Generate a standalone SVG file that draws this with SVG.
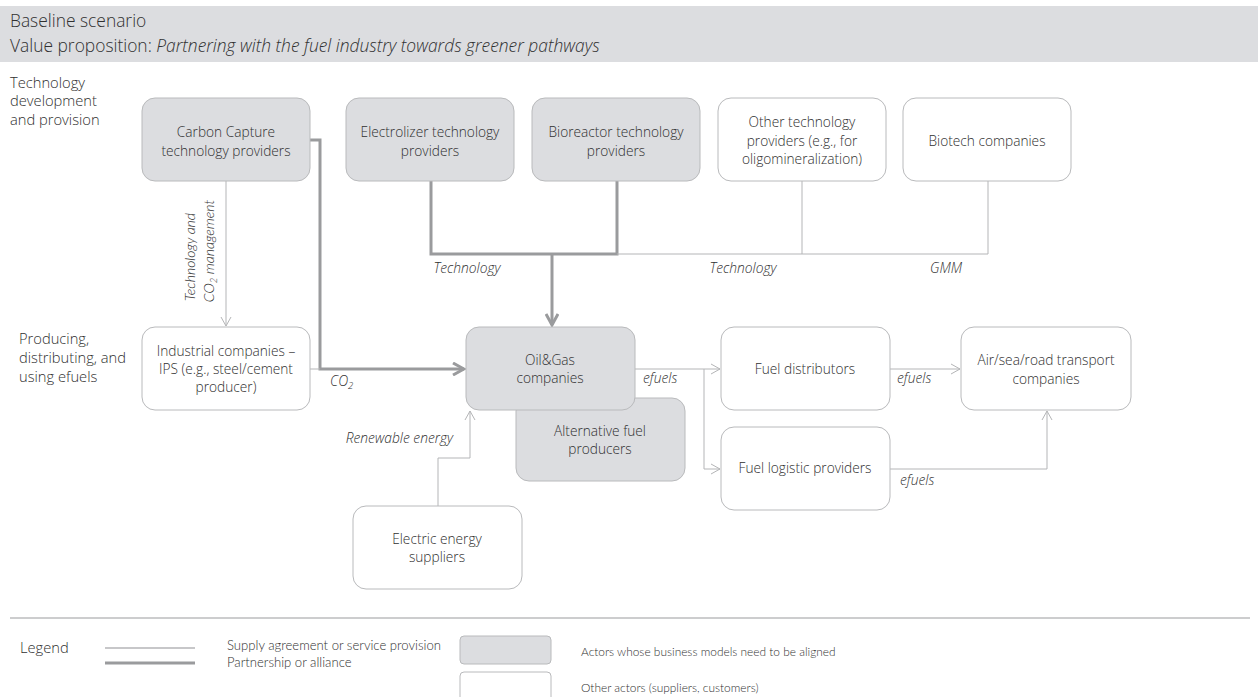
<svg xmlns="http://www.w3.org/2000/svg" width="1258" height="697" viewBox="0 0 1258 697">
<style>
text{font-family:"Open Sans","Liberation Sans",sans-serif;fill:#303030;font-weight:300;}
.n{font-size:13.7px;text-anchor:middle;}
.lbl{font-size:13.8px;font-style:italic;}
.rot{font-family:Lato,"Liberation Sans",sans-serif;font-size:14px;font-style:italic;text-anchor:middle;}
.side{font-size:14.7px;}
.hdr{font-size:17.4px;}
.lg{font-family:Lato,"Liberation Sans",sans-serif;font-size:13.1px;}
.lg2{font-family:Lato,"Liberation Sans",sans-serif;font-size:11.9px;}
.g{fill:#dcdde0;stroke:#b9babc;stroke-width:1;}
.w{fill:#ffffff;stroke:#b9babc;stroke-width:1;}
.thin{fill:none;stroke:#b4b5b7;stroke-width:1;}
.thick{fill:none;stroke:#9a9b9d;stroke-width:3;}
</style>
<defs>
<marker id="oa" markerWidth="12" markerHeight="12" refX="10" refY="6" orient="auto" markerUnits="userSpaceOnUse">
<path d="M1,1 L10,6 L1,11" fill="none" stroke="#b4b5b7" stroke-width="1"/>
</marker>
<marker id="fa" markerWidth="14" markerHeight="14" refX="12" refY="7" orient="auto" markerUnits="userSpaceOnUse">
<path d="M1,1 L12,7 L1,13" fill="none" stroke="#9a9b9d" stroke-width="3" stroke-linejoin="miter"/>
</marker>
</defs>
<rect x="0" y="6" width="1258" height="56" fill="#dcdde0"/>
<text class="hdr" x="10" y="27">Baseline scenario</text>
<text class="hdr" x="10" y="52">Value proposition: <tspan font-style="italic">Partnering with the fuel industry towards greener pathways</tspan></text>
<text class="side" x="10" y="88">Technology</text>
<text class="side" x="10" y="106">development</text>
<text class="side" x="10" y="125">and provision</text>
<text class="side" x="19" y="344">Producing,</text>
<text class="side" x="19" y="363">distributing, and</text>
<text class="side" x="19" y="382">using efuels</text>
<g id="connectors">
<path class="thin" d="M226,181 V326" marker-end="url(#oa)"/>
<path class="thick" d="M310,140 H320 V369 H464" marker-end="url(#fa)"/>
<path class="thin" d="M310,369 H320"/>
<path class="thick" d="M431,181 V254 H617 V181"/>
<path class="thick" d="M552,254 V325" marker-end="url(#fa)"/>
<path class="thin" d="M617,254 H988 V181"/>
<path class="thin" d="M802,181 V254"/>
<path class="thin" d="M635,369 H720" marker-end="url(#oa)"/>
<path class="thin" d="M704,369 V469 H720" marker-end="url(#oa)"/>
<path class="thin" d="M890,369 H960" marker-end="url(#oa)"/>
<path class="thin" d="M890,469 H1047 V411" marker-end="url(#oa)"/>
<path class="thin" d="M438,506 V458 H470 V411" marker-end="url(#oa)"/>
<text class="rot" transform="translate(195,257) rotate(-90)">Technology and</text>
<text class="rot" transform="translate(214,251) rotate(-90)">CO<tspan font-size="9.5" dy="3">2</tspan><tspan dy="-3"> management</tspan></text>
<text class="lbl" x="330" y="386">CO<tspan font-size="9.5" dy="3">2</tspan></text>
<text class="lbl" x="467" y="273" text-anchor="middle">Technology</text>
<text class="lbl" x="743" y="273" text-anchor="middle">Technology</text>
<text class="lbl" x="946" y="273" text-anchor="middle">GMM</text>
<text class="lbl" x="643" y="383">efuels</text>
<text class="lbl" x="897" y="383">efuels</text>
<text class="lbl" x="900" y="485">efuels</text>
<text class="lbl" x="453" y="443" text-anchor="end">Renewable energy</text>
</g>
<g id="carbon-capture"><rect class="g" x="142" y="98" width="168" height="83" rx="13"/><text class="n" x="226" y="137">Carbon Capture</text><text class="n" x="226" y="156">technology providers</text></g>
<g id="electrolizer"><rect class="g" x="346" y="98" width="168" height="83" rx="13"/><text class="n" x="430" y="137">Electrolizer technology</text><text class="n" x="430" y="156">providers</text></g>
<g id="bioreactor"><rect class="g" x="532" y="98" width="168" height="83" rx="13"/><text class="n" x="616" y="137">Bioreactor technology</text><text class="n" x="616" y="156">providers</text></g>
<g id="other-tech"><rect class="w" x="718" y="98" width="168" height="83" rx="13"/><text class="n" x="802" y="127">Other technology</text><text class="n" x="802" y="146">providers (e.g., for</text><text class="n" x="802" y="164">oligomineralization)</text></g>
<g id="biotech"><rect class="w" x="903" y="98" width="168" height="83" rx="13"/><text class="n" x="987" y="146">Biotech companies</text></g>
<g id="industrial"><rect class="w" x="142" y="327" width="168" height="83" rx="13"/><text class="n" x="226" y="356">Industrial companies –</text><text class="n" x="226" y="374">IPS (e.g., steel/cement</text><text class="n" x="226" y="392">producer)</text></g>
<g id="alt-fuel"><rect class="g" x="516" y="398" width="169" height="83" rx="13"/><text class="n" x="600" y="436">Alternative fuel</text><text class="n" x="600" y="454">producers</text></g>
<g id="oil-gas"><rect class="g" x="466" y="327" width="169" height="83" rx="13"/><text class="n" x="550" y="365">Oil&amp;Gas</text><text class="n" x="550" y="383">companies</text></g>
<g id="electric"><rect class="w" x="353" y="506" width="169" height="83" rx="13"/><text class="n" x="437" y="544">Electric energy</text><text class="n" x="437" y="562">suppliers</text></g>
<g id="fuel-distributors"><rect class="w" x="721" y="327" width="169" height="83" rx="13"/><text class="n" x="805" y="374">Fuel distributors</text></g>
<g id="fuel-logistic"><rect class="w" x="721" y="427" width="169" height="83" rx="13"/><text class="n" x="805" y="473">Fuel logistic providers</text></g>
<g id="transport"><rect class="w" x="961" y="327" width="170" height="83" rx="13"/><text class="n" x="1046" y="365">Air/sea/road transport</text><text class="n" x="1046" y="384">companies</text></g>
<g id="legend">
<line x1="10" y1="618" x2="1250" y2="618" stroke="#9a9b9d" stroke-width="1"/>
<text class="side" x="20" y="653">Legend</text>
<line x1="105" y1="648" x2="195" y2="648" stroke="#b4b5b7" stroke-width="1.5"/>
<line x1="105" y1="663" x2="195" y2="663" stroke="#9a9b9d" stroke-width="3"/>
<text class="lg" x="227" y="650">Supply agreement or service provision</text>
<text class="lg" x="227" y="667">Partnership or alliance</text>
<rect class="g" x="460" y="636" width="91" height="28" rx="4"/>
<rect class="w" x="460" y="672" width="91" height="30" rx="4"/>
<text class="lg2" x="581" y="656">Actors whose business models need to be aligned</text>
<text class="lg2" x="581" y="692">Other actors (suppliers, customers)</text>
</g>
</svg>
